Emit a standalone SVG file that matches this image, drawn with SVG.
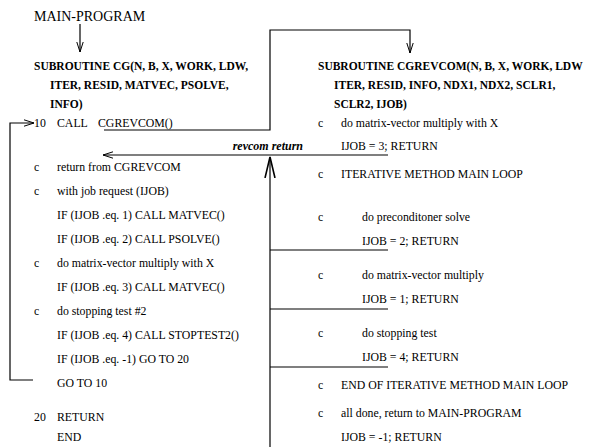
<svg xmlns="http://www.w3.org/2000/svg" width="589" height="447" viewBox="0 0 589 447">
  <style>
    text { font-family: "Liberation Serif", "Times New Roman", serif; font-size: 11.8px; fill: #000; }
    .title { font-size: 14px; }
    .hdr { font-weight: bold; font-size: 11.5px; }
    .lbl { font-weight: bold; font-style: italic; font-size: 12px; }
    .wire { fill: none; stroke: #000; stroke-width: 1.2; }
  </style>
  <defs>
    <marker id="stick" viewBox="0 0 10 8" refX="10" refY="4" markerWidth="10" markerHeight="8" markerUnits="userSpaceOnUse" orient="auto">
      <path d="M0,0.8 L10,4 L0,7.2" fill="none" stroke="#000" stroke-width="1"/>
    </marker>
    <marker id="bigstick" viewBox="0 0 22 12" refX="21" refY="6" markerWidth="22" markerHeight="12" markerUnits="userSpaceOnUse" orient="auto">
      <path d="M0,1 L21,6 L0,11" fill="none" stroke="#000" stroke-width="1.6"/>
    </marker>
  </defs>

  <!-- calling program -->
  <g id="main-program">
    <text class="title" x="34" y="21">MAIN-PROGRAM</text>
  </g>

  <!-- driver routine -->
  <g id="cg">
    <text class="hdr" x="34" y="70">SUBROUTINE CG(N, B, X, WORK, LDW,</text>
    <text class="hdr" x="50" y="89">ITER, RESID, MATVEC, PSOLVE,</text>
    <text class="hdr" x="50" y="108">INFO)</text>
    <text x="34" y="127">10</text>
    <text x="57" y="127">CALL</text>
    <text x="98" y="127">CGREVCOM()</text>
    <text x="34" y="171">c</text>
    <text x="57" y="171">return from CGREVCOM</text>
    <text x="34" y="195">c</text>
    <text x="57" y="195">with job request (IJOB)</text>
    <text x="57" y="219">IF (IJOB .eq. 1) CALL MATVEC()</text>
    <text x="57" y="243">IF (IJOB .eq. 2) CALL PSOLVE()</text>
    <text x="34" y="267">c</text>
    <text x="57" y="267">do matrix-vector multiply with X</text>
    <text x="57" y="291">IF (IJOB .eq. 3) CALL MATVEC()</text>
    <text x="34" y="315">c</text>
    <text x="57" y="315">do stopping test #2</text>
    <text x="57" y="339">IF (IJOB .eq. 4) CALL STOPTEST2()</text>
    <text x="57" y="363">IF (IJOB .eq. -1) GO TO 20</text>
    <text x="57" y="387">GO TO 10</text>
    <text x="34" y="421">20</text>
    <text x="57" y="421">RETURN</text>
    <text x="57" y="441">END</text>
  </g>

  <!-- reverse-communication routine -->
  <g id="cgrevcom">
    <text class="hdr" x="318" y="70">SUBROUTINE CGREVCOM(N, B, X, WORK, LDW</text>
    <text class="hdr" x="334" y="89">ITER, RESID, INFO, NDX1, NDX2, SCLR1,</text>
    <text class="hdr" x="334" y="108">SCLR2, IJOB)</text>
    <text x="318" y="127">c</text>
    <text x="341" y="127">do matrix-vector multiply with X</text>
    <text x="341" y="150">IJOB = 3; RETURN</text>
    <text x="318" y="178">c</text>
    <text x="341" y="178">ITERATIVE METHOD MAIN LOOP</text>
    <text x="318" y="221">c</text>
    <text x="362" y="221">do preconditoner solve</text>
    <text x="362" y="245">IJOB = 2; RETURN</text>
    <text x="318" y="279">c</text>
    <text x="362" y="279">do matrix-vector multiply</text>
    <text x="362" y="303">IJOB = 1; RETURN</text>
    <text x="318" y="337">c</text>
    <text x="362" y="337">do stopping test</text>
    <text x="362" y="361">IJOB = 4; RETURN</text>
    <text x="318" y="389">c</text>
    <text x="341" y="389">END OF ITERATIVE METHOD MAIN LOOP</text>
    <text x="318" y="417">c</text>
    <text x="341" y="417">all done, return to MAIN-PROGRAM</text>
    <text x="341" y="441">IJOB = -1; RETURN</text>
  </g>

  <!-- control-flow connectors -->
  <g id="connectors">
    <line class="wire" x1="80" y1="24" x2="80" y2="52" marker-end="url(#stick)"/>
    <polyline class="wire" points="104,130 270,130 270,30 410,30 410,53" marker-end="url(#stick)"/>
    <line class="wire" x1="388" y1="155" x2="103" y2="155" marker-end="url(#stick)"/>
    <text class="lbl" x="303" y="150" text-anchor="end">revcom return</text>
    <line class="wire" x1="270" y1="447" x2="270" y2="157" marker-end="url(#bigstick)"/>
    <line class="wire" x1="270" y1="250" x2="388" y2="250"/>
    <line class="wire" x1="270" y1="309" x2="388" y2="309"/>
    <line class="wire" x1="270" y1="367" x2="388" y2="367"/>
    <polyline class="wire" points="33,380 10,380 10,123 34,123" marker-end="url(#stick)"/>
  </g>
</svg>
